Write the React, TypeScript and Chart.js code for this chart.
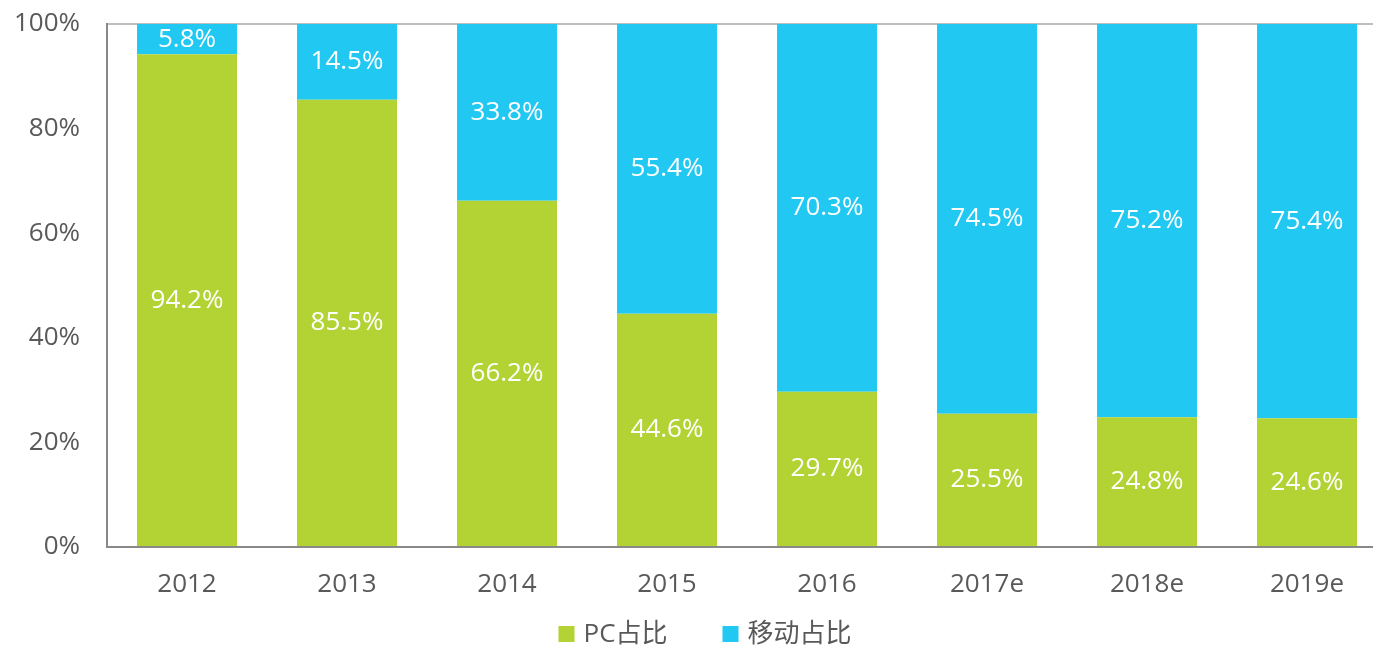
import React, { useEffect, useRef } from "react";
import { Chart, registerables } from "chart.js";

Chart.register(...registerables);

const categories = ["2012", "2013", "2014", "2015", "2016", "2017e", "2018e", "2019e"];
const pcShare = [94.2, 85.5, 66.2, 44.6, 29.7, 25.5, 24.8, 24.6];
const mobileShare = [5.8, 14.5, 33.8, 55.4, 70.3, 74.5, 75.2, 75.4];
const seriesNames = ["PC占比", "移动占比"];
const yTicks = [0, 20, 40, 60, 80, 100];

const FONT = '"Open Sans", "Noto Sans CJK SC", sans-serif';
const GREEN = "#B3D334";
const BLUE = "#20C8F2";
const GRAY_TEXT = "#595959";

const labelPlugin = {
  id: "segLabels",
  afterDatasetsDraw(chart: any) {
    const ctx = chart.ctx;
    ctx.save();
    ctx.fillStyle = "#ffffff";
    ctx.font = `26px ${FONT}`;
    ctx.textAlign = "center";
    ctx.textBaseline = "middle";
    chart.data.datasets.forEach((ds: any, di: number) => {
      const meta = chart.getDatasetMeta(di);
      meta.data.forEach((el: any, i: number) => {
        const v = ds.data[i];
        const cy = (el.y + el.base) / 2;
        ctx.fillText(v.toFixed(1) + "%", el.x, cy);
      });
    });
    ctx.restore();
  },
};

const legendPlugin = {
  id: "customLegend",
  afterDraw(chart: any) {
    const ctx = chart.ctx;
    ctx.save();
    ctx.font = `26px ${FONT}`;
    ctx.textBaseline = "middle";
    ctx.textAlign = "left";
    const box = 16;
    const gapText = 9;
    const gapItem = 55;
    const items = chart.data.datasets.map((ds: any) => ({
      label: ds.label,
      color: ds.backgroundColor,
      w: box + gapText + ctx.measureText(ds.label).width,
    }));
    const total = items.reduce((s: number, it: any) => s + it.w, 0) + gapItem * (items.length - 1);
    let x = chart.width / 2 - total / 2;
    const y = chart.height - 14;
    items.forEach((it: any) => {
      ctx.fillStyle = it.color;
      ctx.fillRect(x, y - box / 2, box, box);
      ctx.fillStyle = GRAY_TEXT;
      ctx.fillText(it.label, x + box + gapText, y + 1);
      x += it.w + gapItem;
    });
    ctx.restore();
  },
};

export default function App() {
  const ref = useRef<HTMLCanvasElement | null>(null);
  useEffect(() => {
    if (!ref.current) return;
    const chart = new Chart(ref.current, {
      type: "bar",
      data: {
        labels: categories,
        datasets: [
          { label: seriesNames[0], data: pcShare, backgroundColor: GREEN, barPercentage: 0.625, categoryPercentage: 1 },
          { label: seriesNames[1], data: mobileShare, backgroundColor: BLUE, barPercentage: 0.625, categoryPercentage: 1 },
        ],
      },
      options: {
        animation: false,
        responsive: false,
        maintainAspectRatio: false,
        layout: { padding: { top: 24, right: 23, left: 0, bottom: 51 } },
        plugins: {
          tooltip: { enabled: false },
          legend: { display: false },
        },
        scales: {
          x: {
            stacked: true,
            grid: { display: false },
            border: { color: "#898989", width: 2 },
            ticks: { color: GRAY_TEXT, font: { size: 26, family: FONT }, padding: 14 },
            afterFit(scale: any) {
              scale.height = 50;
              scale.paddingLeft = 0;
              scale.paddingRight = 0;
            },
          },
          y: {
            stacked: true,
            min: 0,
            max: 100,
            afterBuildTicks(scale: any) {
              scale.ticks = yTicks.map((v) => ({ value: v }));
            },
            grid: {
              drawTicks: false,
              color: (c: any) => (c.tick && c.tick.value === 100 ? "#BFBFBF" : "transparent"),
              lineWidth: 2,
            },
            border: { color: "#898989", width: 2 },
            ticks: {
              color: GRAY_TEXT,
              font: { size: 26, family: FONT },
              padding: 27,
              callback: (v: any) => v + "%",
            },
            afterFit(scale: any) {
              scale.width = 107;
              scale.paddingTop = 0;
              scale.paddingBottom = 0;
            },
          },
        },
      },
      plugins: [labelPlugin, legendPlugin],
    });
    return () => chart.destroy();
  }, []);
  return (
    <div style={{ position: "fixed", left: 0, top: 0, width: 1373, height: 648, overflow: "hidden", background: "#fff" }}>
      <canvas ref={ref} width={1410} height={648} style={{ width: 1410, height: 648, display: "block" }} />
    </div>
  );
}
